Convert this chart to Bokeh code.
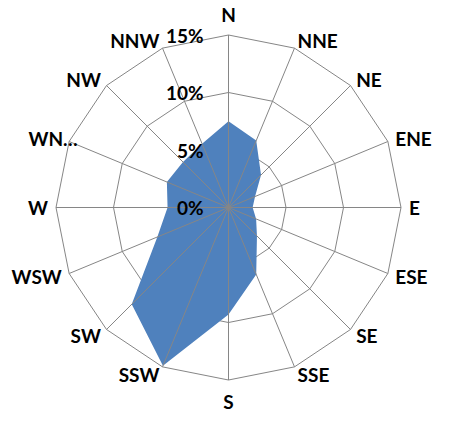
import numpy as np
from bokeh.plotting import figure
from bokeh.models import ColumnDataSource, Range1d
from bokeh.core.properties import value
from bokeh.embed import file_html
from bokeh.resources import INLINE

# ---- data ----
directions = ["N", "NNE", "NE", "ENE", "E", "ESE", "SE", "SSE",
              "S", "SSW", "SW", "WSW", "W", "WNW", "NW", "NNW"]
direction_labels = ["N", "NNE", "NE", "ENE", "E", "ESE", "SE", "SSE",
                    "S", "SSW", "SW", "WSW", "W", "WN…", "NW", "NNW"]
frequency = [7.5, 6.3, 4.0, 2.5, 2.1, 2.6, 3.5, 6.3,
             9.3, 14.9, 11.9, 6.7, 5.3, 5.8, 5.6, 6.0]
ring_values = [0, 5, 10, 15]
tick_labels = ["0%", "5%", "10%", "15%"]

# ---- geometry ----
n = len(directions)
theta = np.arange(n) * 2 * np.pi / n
sx, sy = np.sin(theta), np.cos(theta)
rmax = ring_values[-1]

W, H = 434, 413
px = 11.5          # pixels per percent unit
cx, cy = 228, 207  # centre position in pixels from top-left

FONT = "Lato"
GRID = "#868686"
FILL = "#4F81BD"

p = figure(width=W, height=H,
           x_range=Range1d(-cx / px, (W - cx) / px),
           y_range=Range1d(-(H - cy) / px, cy / px),
           output_backend="svg", toolbar_location=None, min_border=0)
p.axis.visible = False
p.grid.visible = False
p.outline_line_color = None
p.background_fill_color = "white"
p.border_fill_color = "white"

# rings (polygonal)
ring_xs, ring_ys = [], []
for r in ring_values[1:]:
    ring_xs.append(list(np.append(r * sx, r * sx[0])))
    ring_ys.append(list(np.append(r * sy, r * sy[0])))
p.multi_line(ring_xs, ring_ys, line_color=GRID, line_width=1)

# data polygon
f = np.array(frequency)
p.patch(f * sx, f * sy, fill_color=FILL, line_color=None)

# spokes
p.multi_line([[0, rmax * a] for a in sx], [[0, rmax * b] for b in sy],
             line_color=GRID, line_width=1)

# category labels
lx, ly, al = [], [], []
for i, d in enumerate(directions):
    s, c = sx[i], sy[i]
    if abs(s) < 0.01:
        r = rmax + 21 / px
        al.append("center")
    else:
        r = rmax + 8 / px
        al.append("left" if s > 0 else "right")
    x = r * s
    if d == "WNW":
        x += 16 / px
    lx.append(x)
    ly.append(r * c)
src = ColumnDataSource(dict(x=lx, y=ly, t=direction_labels, a=al))
p.text("x", "y", text="t", source=src, text_align="a", text_baseline="middle",
       text_font=value(FONT), text_font_style="bold", text_font_size="19px",
       text_color="black")

# radial tick labels
tsrc = ColumnDataSource(dict(x=[-25 / px] * len(ring_values), y=ring_values, t=tick_labels))
p.text("x", "y", text="t", source=tsrc, text_align="right", text_baseline="middle",
       text_font=value(FONT), text_font_style="bold", text_font_size="19px",
       text_color="black")

open("out.html", "w").write(file_html(p, INLINE))
